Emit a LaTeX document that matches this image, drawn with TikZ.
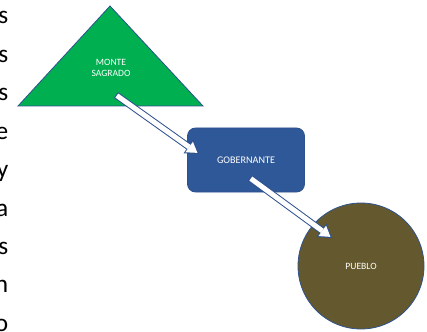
\documentclass[tikz,border=0pt]{standalone}
\usepackage{fontspec}
\setmainfont{Carlito}
\usetikzlibrary{arrows.meta}

\definecolor{edgeblue}{RGB}{47,82,143}
\definecolor{montegreen}{RGB}{0,176,80}
\definecolor{gobblue}{RGB}{47,88,152}
\definecolor{puebloolive}{RGB}{100,88,46}

\begin{document}
\begin{tikzpicture}[x=0.75pt, y=-0.75pt, font=\fontsize{7.2}{8.6}\selectfont,
    shapelabel/.style={text=white, align=center, inner sep=1pt},
    arrowout/.style={line width=5.25pt, draw=edgeblue,
        -{Triangle[length=9.75pt, width=12.5pt, line width=0pt]}},
    arrowin/.style={line width=3.75pt, draw=white, shorten >=1.45pt, shorten <=0.75pt,
        -{Triangle[length=7.6pt, width=9.7pt, line width=0pt]}}]

    \useasboundingbox (0,0) rectangle (427,331);

    % Zbytky textu u levého okraje
    \foreach \k/\lt in {0/s, 1/s, 2/s, 3/e, 4/y, 5/a, 6/s, 7/n, 8/o} {
        \node[anchor=base east, inner sep=0pt, font=\fontsize{19}{19}\selectfont]
            (txt\k) at (8.5, 24+38.4*\k) {\lt};
    }

    % 1. Monte sagrado (trojúhelník)
    \filldraw[fill=montegreen, draw=edgeblue, line width=0.6pt]
        (18,106) -- (110,6) -- (203,106) -- cycle;
    \node[shapelabel] (monte) at (111,68) {MONTE\\SAGRADO};

    % 2. Gobernante
    \node[shapelabel, draw=edgeblue, line width=0.6pt, fill=gobblue, rounded corners=6pt,
        minimum width=87.75pt, minimum height=48pt, font=\fontsize{7.6}{9}\selectfont]
        (gob) at (246,160) {GOBERNANTE};

    % 3. Pueblo
    \node[shapelabel, circle, draw=edgeblue, line width=0.6pt, fill=puebloolive,
        minimum size=94.5pt] (pueblo) at (361,266) {PUEBLO};

    % 4. Šipky
    \coordinate (a1s) at (116,95);
    \coordinate (a1e) at (199,154);
    \coordinate (a2s) at (250,178);
    \coordinate (a2e) at (332,238);
    \foreach \s/\e in {a1s/a1e, a2s/a2e} {
        \draw[arrowout] (\s) -- (\e);
        \draw[arrowin] (\s) -- (\e);
    }

\end{tikzpicture}
\end{document}
